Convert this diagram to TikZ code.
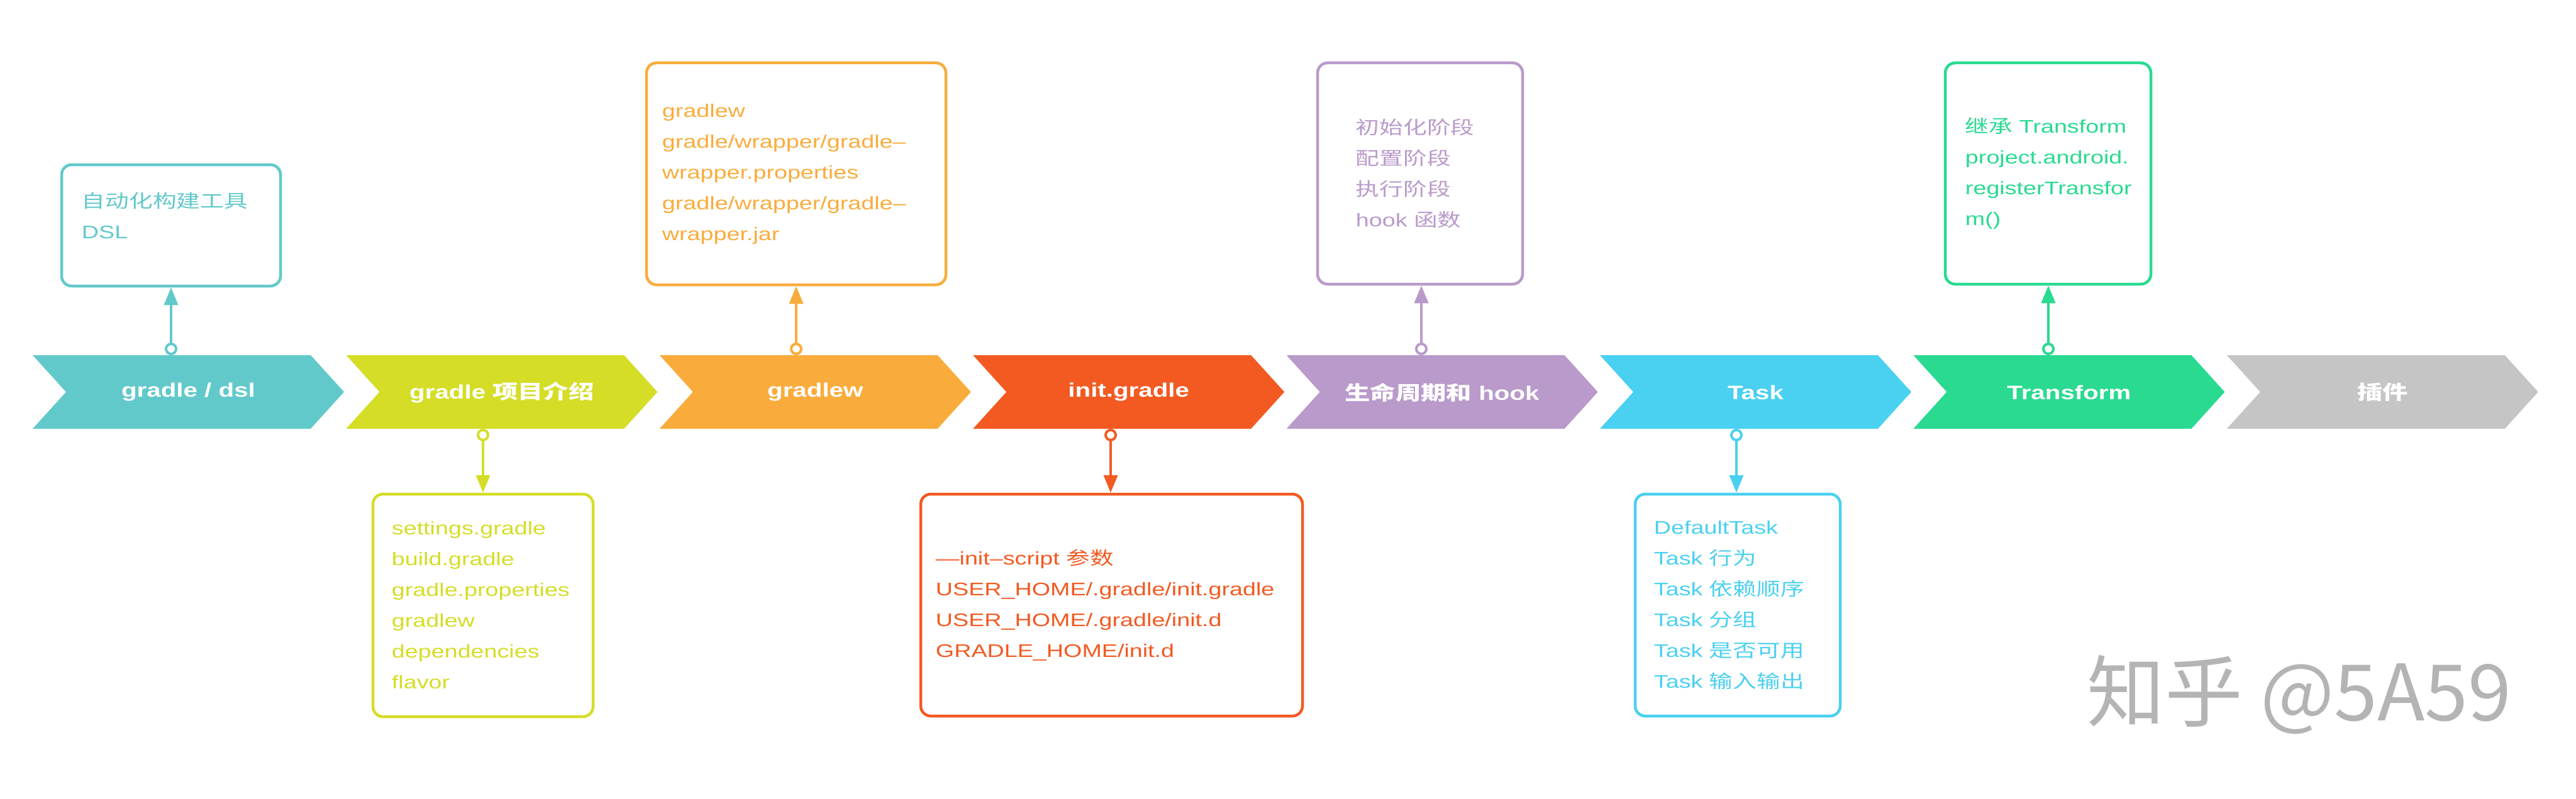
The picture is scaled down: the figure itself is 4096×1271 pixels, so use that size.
\documentclass[tikz,border=0pt]{standalone}
\usepackage{fontspec}
\setmainfont[FakeStretch=1.3]{Liberation Sans}
\newfontfamily\zhfont[FakeStretch=1.3]{Noto Sans CJK SC}
\newfontfamily\wmfont{Noto Sans CJK SC}
\newcommand\zh[1]{{\zhfont #1}}
\usetikzlibrary{arrows.meta}
\definecolor{cTeal}{HTML}{62C9CB}
\definecolor{cLime}{HTML}{D5DD27}
\definecolor{cOrange}{HTML}{F9AC3C}
\definecolor{cRed}{HTML}{F25A22}
\definecolor{cPurple}{HTML}{B99ACB}
\definecolor{cCyan}{HTML}{4AD0F0}
\definecolor{cGreen}{HTML}{29DA90}
\definecolor{cGray}{HTML}{C5C5C5}
\definecolor{cMark}{HTML}{B4B4B4}
\newcommand\chevshape[4]{%
  \fill[#3] (#2,565) -- (#2+442,565) -- (#2+495,623.5) -- (#2+442,682) -- (#2,682) -- (#2+53,623.5) -- cycle;
  \node[chevtext] (#1) at (#2+247.5,624) {#4};
}
\begin{document}
\begin{tikzpicture}[x=1pt,y=-1pt,
  chevtext/.style={text=white,font=\fontsize{31}{36}\selectfont\bfseries,inner sep=0pt},
  infobox/.style={draw=#1,line width=4.5pt,rounded corners=16pt,fill=white,inner sep=0pt},
  infotext/.style={text=#1,font=\fontsize{29}{49}\selectfont,align=left,inner sep=0pt,anchor=west},
  link/.style={draw=#1,line width=4pt,{Circle[open,length=20pt,width=20pt]}-{Triangle[length=28pt,width=22pt]}},
]
\useasboundingbox (0,0) rectangle (4096,1271);
\fill[white] (0,0) rectangle (4096,1271);

% chevrons
\chevshape{c1}{52}{cTeal}{gradle / dsl}
\chevshape{c2}{550.4}{cLime}{gradle \zh{项目介绍}}
\chevshape{c3}{1048.8}{cOrange}{gradlew}
\chevshape{c4}{1547.2}{cRed}{init.gradle}
\chevshape{c5}{2045.6}{cPurple}{\zh{生命周期和} hook}
\chevshape{c6}{2544}{cCyan}{Task}
\chevshape{c7}{3042.4}{cGreen}{Transform}
\chevshape{c8}{3540.8}{cGray}{\zh{插件}}

% boxes
\node[infobox=cTeal,   minimum width=348pt, minimum height=193pt] (b1) at (272,358.5) {};
\node[infobox=cLime,   minimum width=350pt, minimum height=354pt] (b2) at (768,963) {};
\node[infobox=cOrange, minimum width=476pt, minimum height=353pt] (b3) at (1266,276.5) {};
\node[infobox=cRed,    minimum width=607pt, minimum height=353pt] (b4) at (1767.5,962.5) {};
\node[infobox=cPurple, minimum width=326pt, minimum height=352pt] (b5) at (2258,276) {};
\node[infobox=cCyan,   minimum width=326pt, minimum height=353pt] (b6) at (2763,962.5) {};
\node[infobox=cGreen,  minimum width=327pt, minimum height=352pt] (b7) at (3256.5,276) {};

% box texts
\node[infotext=cTeal] (t1) at ([xshift=34pt,yshift=16pt]b1.west) {\zh{自动化构建工具}\\DSL};
\node[infotext=cLime] (t2) at ([xshift=32pt]b2.west) {settings.gradle\\build.gradle\\gradle.properties\\gradlew\\dependencies\\flavor};
\node[infotext=cOrange] (t3) at ([xshift=27pt]b3.west) {gradlew\\gradle/wrapper/gradle–\\wrapper.properties\\gradle/wrapper/gradle–\\wrapper.jar};
\node[infotext=cRed] (t4) at ([xshift=26pt]b4.west) {—init–script \zh{参数}\\USER\_HOME/.gradle/init.gradle\\USER\_HOME/.gradle/init.d\\GRADLE\_HOME/init.d};
\node[infotext=cPurple] (t5) at ([xshift=63pt]b5.west) {\zh{初始化阶段}\\\zh{配置阶段}\\\zh{执行阶段}\\hook \zh{函数}};
\node[infotext=cCyan] (t6) at ([xshift=32pt]b6.west) {DefaultTask\\Task \zh{行为}\\Task \zh{依赖顺序}\\Task \zh{分组}\\Task \zh{是否可用}\\Task \zh{输入输出}};
\node[infotext=cGreen] (t7) at ([xshift=34pt]b7.west) {\zh{继承} Transform\\project.android.\\registerTransfor\\m()};

% connectors
\coordinate (p1) at (272,565);
\coordinate (p2) at (768,682);
\coordinate (p3) at (1266,565);
\coordinate (p4) at (1766,682);
\coordinate (p5) at (2260,565);
\coordinate (p6) at (2761,682);
\coordinate (p7) at (3257,565);
\draw[link=cTeal]   (p1) -- (p1 |- b1.south);
\draw[link=cLime]   (p2) -- (p2 |- b2.north);
\draw[link=cOrange] (p3) -- (p3 |- b3.south);
\draw[link=cRed]    (p4) -- (p4 |- b4.north);
\draw[link=cPurple] (p5) -- (p5 |- b5.south);
\draw[link=cCyan]   (p6) -- (p6 |- b6.north);
\draw[link=cGreen]  (p7) -- (p7 |- b7.south);

% watermark
\node[text=cMark,font=\wmfont\fontsize{124}{136}\selectfont,inner sep=0pt] (wm) at (3656,1105) {知乎 @5A59};
\end{tikzpicture}
\end{document}
